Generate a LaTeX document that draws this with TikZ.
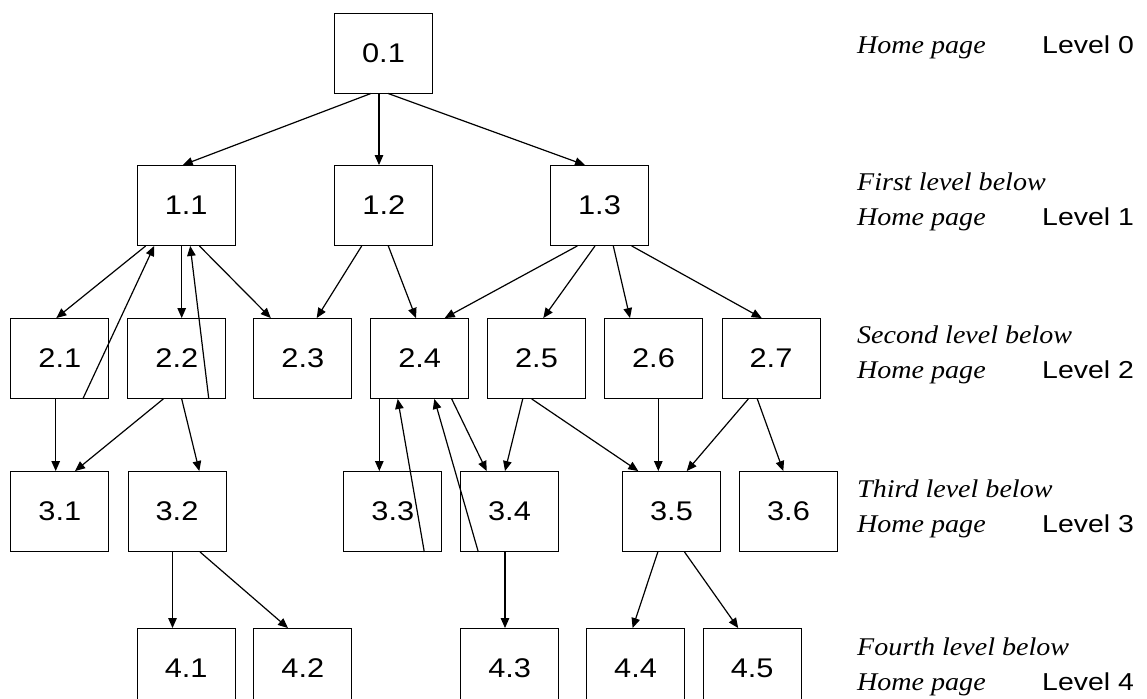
\documentclass[tikz,border=0pt]{standalone}
\usepackage{fontspec}
\setmainfont{Liberation Serif}
\newfontfamily\boxfont[FakeStretch=1.14]{Liberation Sans}
\newfontfamily\lvlfont[FakeStretch=1.16]{Liberation Sans}
\newfontfamily\notefont[FakeStretch=1.10]{Liberation Serif}
\usetikzlibrary{arrows.meta}
\begin{document}
\begin{tikzpicture}[x=1pt,y=-1pt,
  page/.style={draw=black,line width=0.9pt,minimum width=98pt,minimum height=80pt,
    inner sep=0pt,font=\boxfont\fontsize{27}{32}\selectfont},
  link/.style={line width=1.2pt,-{Triangle[length=10pt,width=8.5pt]}},
  note/.style={anchor=base west,inner sep=0pt,align=left,
    font=\notefont\itshape\fontsize{25.5}{35}\selectfont},
  lvl/.style={anchor=base west,inner sep=0pt,font=\lvlfont\fontsize{24.5}{30}\selectfont}]
\useasboundingbox (0,0) rectangle (1147,698);

% pages, level by level
\node[page] (n01) at (383.5,53) {0.1};

\node[page] (n11) at (186.2,205.5) {1.1};
\node[page] (n12) at (383.8,205.5) {1.2};
\node[page] (n13) at (599.5,205.5) {1.3};

\node[page] (n21) at (59.8,358.5) {2.1};
\node[page] (n22) at (176.8,358.5) {2.2};
\node[page] (n23) at (302.8,358.5) {2.3};
\node[page] (n24) at (419.7,358.5) {2.4};
\node[page] (n25) at (536.5,358.5) {2.5};
\node[page] (n26) at (653.5,358.5) {2.6};
\node[page] (n27) at (771,358.5) {2.7};

\node[page] (n31) at (59.8,511.5) {3.1};
\node[page] (n32) at (177,511.5) {3.2};
\node[page] (n33) at (392.8,511.5) {3.3};
\node[page] (n34) at (509.5,511.5) {3.4};
\node[page] (n35) at (671.5,511.5) {3.5};
\node[page] (n36) at (788.5,511.5) {3.6};

\node[page] (n41) at (186.2,668.5) {4.1};
\node[page] (n42) at (302.8,668.5) {4.2};
\node[page] (n43) at (509.7,668.5) {4.3};
\node[page] (n44) at (635.6,668.5) {4.4};
\node[page] (n45) at (752.2,668.5) {4.5};

% links from level 0
\draw[link] ([xshift=-12.5]n01.south) -- ([xshift=-3.5]n11.north);
\draw[link] ([xshift=-4.5]n01.south) -- ([xshift=-4.8]n12.north);
\draw[link] ([xshift=4.5]n01.south) -- ([xshift=-14.5]n13.north);

% links between levels 1 and 2
\draw[link] ([xshift=-40.5]n11.south) -- ([xshift=-3.5]n21.north);
\draw[link] ([xshift=23]n21.south) -- ([xshift=-32]n11.south);
\draw[link] ([xshift=-4.5]n11.south) -- ([xshift=4.9]n22.north);
\draw[link] ([xshift=32]n22.south) -- ([xshift=4]n11.south);
\draw[link] ([xshift=13.2]n11.south) -- ([xshift=-32]n23.north);
\draw[link] ([xshift=-22.1]n12.south) -- ([xshift=13.9]n23.north);
\draw[link] ([xshift=4.5]n12.south) -- ([xshift=-3.7]n24.north);
\draw[link] ([xshift=-22.2]n13.south) -- ([xshift=25]n24.north);
\draw[link] ([xshift=-4.5]n13.south) -- ([xshift=6.8]n25.north);
\draw[link] ([xshift=13.8]n13.south) -- ([xshift=-23.5]n26.north);
\draw[link] ([xshift=32.2]n13.south) -- ([xshift=-9.3]n27.north);

% links between levels 2 and 3
\draw[link] ([xshift=-4.1]n21.south) -- ([xshift=-4.1]n31.north);
\draw[link] ([xshift=-13.5]n22.south) -- ([xshift=15.2]n31.north);
\draw[link] ([xshift=4.9]n22.south) -- ([xshift=22.3]n32.north);
\draw[link] ([xshift=-40.4]n24.south) -- ([xshift=-13.5]n33.north);
\draw[link] ([xshift=31.5]n33.south) -- ([xshift=-22]n24.south);
\draw[link] ([xshift=-31.2]n34.south) -- ([xshift=14.6]n24.south);
\draw[link] ([xshift=32]n24.south) -- ([xshift=-22.8]n34.north);
\draw[link] ([xshift=-13.8]n25.south) -- ([xshift=-4.5]n34.north);
\draw[link] ([xshift=-4.8]n25.south) -- ([xshift=-33.2]n35.north);
\draw[link] ([xshift=4.8]n26.south) -- ([xshift=-13.2]n35.north);
\draw[link] ([xshift=-22.7]n27.south) -- ([xshift=15.2]n35.north);
\draw[link] ([xshift=-13.7]n27.south) -- ([xshift=-5.2]n36.north);

% links between levels 3 and 4
\draw[link] ([xshift=-4.5]n32.south) -- ([xshift=-13.7]n41.north);
\draw[link] ([xshift=23]n32.south) -- ([xshift=-14.8]n42.north);
\draw[link] ([xshift=-4.5]n34.south) -- ([xshift=-4.7]n43.north);
\draw[link] ([xshift=-13.7]n35.south) -- ([xshift=-3]n44.north);
\draw[link] ([xshift=13]n35.south) -- ([xshift=-14]n45.north);

% level captions (two-line notes sit on the baseline of their last line)
\node[note] (d0) at (857,54) {Home page};
\node[lvl]  (l0) at (1042,54) {Level 0};
\node[note] (d1) at (857,225) {First level below\\Home page};
\node[lvl]  (l1) at (1042,225) {Level 1};
\node[note] (d2) at (857,378) {Second level below\\Home page};
\node[lvl]  (l2) at (1042,378) {Level 2};
\node[note] (d3) at (857,532) {Third level below\\Home page};
\node[lvl]  (l3) at (1042,532) {Level 3};
\node[note] (d4) at (857,690) {Fourth level below\\Home page};
\node[lvl]  (l4) at (1042,690) {Level 4};
\end{tikzpicture}
\end{document}
